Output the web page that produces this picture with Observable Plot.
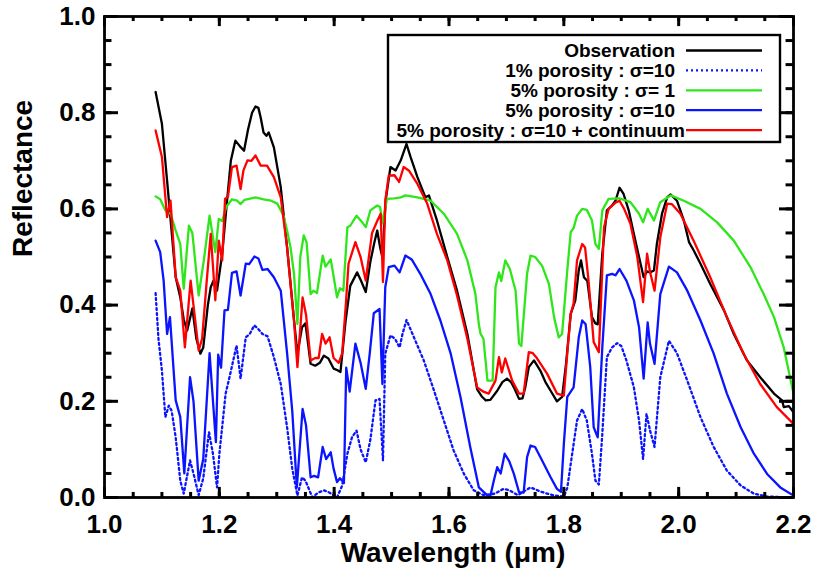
<!DOCTYPE html>
<html><head><meta charset="utf-8">
<script src="https://cdn.jsdelivr.net/npm/d3@7"></script>
<script src="https://cdn.jsdelivr.net/npm/@observablehq/plot@0.6"></script>
<style>body{margin:0;background:#fff;}</style>
</head><body><div id="chart"></div>
<script>
// ---- data: [wavelength (µm), reflectance] ----
const observation = [[1.089,.843],[1.100,.777],[1.109,.659],[1.124,.458],[1.132,.416],[1.138,.370],[1.144,.347],[1.153,.393],[1.160,.330],[1.167,.299],[1.172,.312],[1.180,.400],[1.185,.437],[1.190,.451],[1.196,.430],[1.205,.507],[1.214,.624],[1.220,.700],[1.228,.742],[1.236,.730],[1.243,.721],[1.250,.765],[1.257,.800],[1.263,.813],[1.268,.810],[1.272,.790],[1.277,.759],[1.282,.752],[1.286,.759],[1.295,.728],[1.307,.645],[1.318,.520],[1.330,.370],[1.336,.299],[1.344,.354],[1.350,.362],[1.359,.278],[1.367,.274],[1.375,.280],[1.382,.295],[1.390,.289],[1.399,.268],[1.405,.265],[1.411,.261],[1.420,.368],[1.428,.440],[1.440,.468],[1.447,.450],[1.455,.427],[1.463,.490],[1.470,.530],[1.475,.555],[1.480,.520],[1.484,.500],[1.490,.620],[1.498,.687],[1.507,.680],[1.516,.701],[1.526,.735],[1.533,.708],[1.545,.666],[1.559,.624],[1.565,.628],[1.579,.576],[1.597,.500],[1.614,.430],[1.632,.340],[1.649,.225],[1.657,.210],[1.664,.202],[1.672,.203],[1.684,.222],[1.693,.240],[1.701,.247],[1.708,.240],[1.713,.229],[1.722,.205],[1.728,.206],[1.733,.230],[1.739,.271],[1.748,.285],[1.759,.264],[1.768,.240],[1.777,.222],[1.788,.200],[1.797,.209],[1.804,.280],[1.812,.382],[1.820,.410],[1.826,.472],[1.830,.493],[1.835,.458],[1.841,.450],[1.849,.375],[1.855,.362],[1.859,.360],[1.867,.507],[1.875,.597],[1.884,.607],[1.890,.617],[1.897,.644],[1.904,.631],[1.913,.597],[1.922,.548],[1.931,.500],[1.939,.458],[1.945,.470],[1.950,.468],[1.957,.472],[1.962,.527],[1.971,.590],[1.980,.624],[1.986,.630],[1.997,.617],[2.009,.576],[2.018,.531],[2.026,.514],[2.038,.486],[2.055,.444],[2.079,.389],[2.096,.340],[2.119,.285],[2.142,.250],[2.166,.216],[2.180,.202],[2.183,.188],[2.192,.190],[2.200,.177]];

const porosity1s10 = [[1.089,.425],[1.094,.330],[1.100,.264],[1.106,.167],[1.112,.191],[1.117,.180],[1.124,.125],[1.132,.035],[1.138,.008],[1.149,.077],[1.155,.050],[1.164,.005],[1.172,.040],[1.182,.136],[1.189,.090],[1.196,.021],[1.200,.090],[1.211,.216],[1.219,.257],[1.230,.316],[1.237,.247],[1.246,.333],[1.253,.340],[1.261,.358],[1.268,.350],[1.275,.340],[1.284,.335],[1.295,.292],[1.307,.236],[1.318,.146],[1.327,.060],[1.336,.004],[1.344,.042],[1.350,.035],[1.362,.000],[1.372,.010],[1.382,.015],[1.392,.010],[1.405,.000],[1.414,.025],[1.423,.091],[1.431,.125],[1.439,.139],[1.446,.100],[1.455,.073],[1.463,.120],[1.472,.202],[1.479,.205],[1.485,.077],[1.489,.299],[1.498,.337],[1.506,.330],[1.514,.312],[1.519,.340],[1.526,.369],[1.540,.330],[1.556,.285],[1.574,.222],[1.591,.160],[1.608,.098],[1.626,.049],[1.643,.015],[1.660,.005],[1.680,.008],[1.695,.018],[1.705,.015],[1.720,.005],[1.742,.021],[1.760,.012],[1.780,.005],[1.800,.002],[1.806,.020],[1.812,.070],[1.823,.160],[1.832,.184],[1.840,.160],[1.849,.091],[1.855,.035],[1.861,.027],[1.867,.132],[1.875,.292],[1.884,.312],[1.893,.321],[1.900,.315],[1.909,.285],[1.922,.229],[1.931,.160],[1.938,.080],[1.944,.174],[1.950,.140],[1.958,.105],[1.968,.250],[1.983,.326],[1.997,.300],[2.015,.243],[2.038,.167],[2.061,.105],[2.084,.056],[2.108,.025],[2.131,.008],[2.154,.002],[2.200,.000]];

const porosity5s1 = [[1.089,.626],[1.097,.620],[1.106,.597],[1.115,.590],[1.124,.555],[1.132,.527],[1.138,.434],[1.147,.565],[1.153,.550],[1.164,.420],[1.173,.493],[1.183,.586],[1.193,.510],[1.199,.579],[1.205,.575],[1.212,.604],[1.222,.620],[1.231,.617],[1.237,.610],[1.244,.619],[1.263,.624],[1.277,.620],[1.290,.617],[1.301,.611],[1.307,.597],[1.312,.585],[1.318,.555],[1.324,.520],[1.330,.465],[1.336,.361],[1.341,.500],[1.347,.545],[1.352,.530],[1.359,.423],[1.364,.430],[1.370,.425],[1.380,.503],[1.385,.480],[1.394,.495],[1.399,.460],[1.405,.416],[1.410,.435],[1.416,.430],[1.423,.562],[1.428,.565],[1.439,.586],[1.447,.575],[1.455,.562],[1.463,.597],[1.475,.607],[1.480,.604],[1.484,.570],[1.492,.621],[1.505,.622],[1.516,.624],[1.524,.628],[1.545,.624],[1.568,.617],[1.591,.590],[1.614,.548],[1.632,.493],[1.646,.423],[1.652,.360],[1.655,.340],[1.660,.330],[1.667,.243],[1.676,.243],[1.681,.437],[1.687,.468],[1.691,.450],[1.698,.493],[1.706,.475],[1.716,.430],[1.722,.320],[1.726,.315],[1.736,.465],[1.742,.503],[1.750,.500],[1.762,.482],[1.774,.444],[1.783,.375],[1.791,.333],[1.797,.340],[1.806,.472],[1.812,.552],[1.817,.560],[1.823,.586],[1.832,.600],[1.840,.598],[1.849,.576],[1.855,.527],[1.861,.517],[1.867,.597],[1.878,.621],[1.897,.622],[1.916,.614],[1.931,.590],[1.938,.572],[1.946,.600],[1.957,.576],[1.968,.614],[1.986,.628],[2.009,.617],[2.038,.600],[2.067,.572],[2.096,.534],[2.125,.479],[2.148,.423],[2.166,.375],[2.183,.312],[2.200,.216]];

const porosity5s10 = [[1.089,.534],[1.097,.510],[1.103,.451],[1.109,.340],[1.114,.375],[1.124,.202],[1.132,.167],[1.139,.050],[1.149,.250],[1.155,.200],[1.164,.035],[1.172,.080],[1.183,.300],[1.194,.115],[1.198,.297],[1.203,.270],[1.209,.389],[1.215,.390],[1.222,.467],[1.230,.470],[1.237,.420],[1.246,.486],[1.252,.485],[1.261,.501],[1.268,.497],[1.275,.473],[1.284,.475],[1.295,.458],[1.307,.430],[1.318,.300],[1.327,.180],[1.335,.021],[1.345,.184],[1.351,.150],[1.359,.042],[1.365,.045],[1.372,.042],[1.380,.105],[1.386,.080],[1.394,.094],[1.399,.060],[1.405,.032],[1.410,.040],[1.414,.035],[1.417,.030],[1.421,.270],[1.427,.220],[1.437,.320],[1.446,.280],[1.455,.226],[1.462,.300],[1.469,.383],[1.479,.392],[1.484,.236],[1.489,.437],[1.495,.479],[1.505,.482],[1.514,.468],[1.524,.503],[1.535,.495],[1.550,.465],[1.568,.423],[1.585,.368],[1.603,.299],[1.620,.209],[1.637,.105],[1.652,.021],[1.667,.004],[1.672,.003],[1.678,.035],[1.684,.063],[1.690,.050],[1.697,.091],[1.705,.075],[1.713,.049],[1.722,.011],[1.730,.010],[1.736,.084],[1.742,.108],[1.750,.105],[1.759,.084],[1.777,.042],[1.788,.018],[1.795,.012],[1.800,.111],[1.806,.209],[1.817,.229],[1.826,.333],[1.832,.368],[1.838,.360],[1.846,.271],[1.852,.146],[1.859,.125],[1.867,.312],[1.875,.462],[1.884,.465],[1.890,.462],[1.897,.475],[1.909,.451],[1.922,.410],[1.931,.354],[1.939,.247],[1.946,.364],[1.950,.320],[1.958,.278],[1.968,.423],[1.983,.480],[1.997,.468],[2.015,.430],[2.038,.368],[2.061,.299],[2.084,.216],[2.108,.146],[2.131,.091],[2.154,.049],[2.177,.021],[2.200,.004]];

const porosity5s10cont = [[1.089,.763],[1.100,.708],[1.109,.583],[1.115,.617],[1.124,.458],[1.132,.430],[1.140,.312],[1.150,.451],[1.156,.389],[1.164,.306],[1.170,.330],[1.178,.450],[1.185,.548],[1.193,.410],[1.199,.534],[1.205,.493],[1.210,.621],[1.215,.625],[1.222,.687],[1.230,.690],[1.237,.641],[1.242,.680],[1.249,.701],[1.256,.700],[1.263,.711],[1.272,.690],[1.283,.690],[1.295,.666],[1.307,.624],[1.318,.520],[1.330,.368],[1.336,.271],[1.345,.416],[1.351,.380],[1.359,.285],[1.367,.290],[1.373,.290],[1.379,.340],[1.385,.320],[1.392,.333],[1.399,.290],[1.408,.280],[1.414,.300],[1.420,.396],[1.425,.486],[1.437,.531],[1.446,.500],[1.455,.451],[1.466,.550],[1.475,.575],[1.481,.590],[1.485,.448],[1.489,.617],[1.495,.669],[1.505,.670],[1.513,.656],[1.521,.687],[1.530,.680],[1.545,.652],[1.562,.611],[1.579,.548],[1.597,.493],[1.614,.420],[1.632,.330],[1.649,.229],[1.660,.220],[1.669,.216],[1.681,.243],[1.687,.292],[1.692,.260],[1.698,.289],[1.710,.243],[1.722,.216],[1.730,.216],[1.739,.302],[1.746,.300],[1.753,.290],[1.771,.257],[1.788,.216],[1.800,.212],[1.806,.300],[1.812,.382],[1.817,.403],[1.823,.493],[1.832,.527],[1.837,.520],[1.843,.451],[1.852,.323],[1.861,.302],[1.870,.562],[1.878,.600],[1.890,.613],[1.897,.617],[1.905,.600],[1.916,.569],[1.928,.500],[1.938,.406],[1.945,.507],[1.950,.470],[1.958,.430],[1.968,.541],[1.980,.611],[1.988,.610],[2.003,.590],[2.026,.534],[2.055,.458],[2.084,.375],[2.113,.299],[2.142,.236],[2.171,.188],[2.200,.153]];

const seriesNames = ["Observation", "1% porosity : σ=10", "5% porosity : σ= 1", "5% porosity : σ=10", "5% porosity : σ=10 + continuum"];
const seriesColors = ["#000000", "#0a14ff", "#2ee61a", "#0a14ff", "#ff0000"];
const seriesDash = [null, "2 3", null, null, null];
const seriesData = [observation, porosity1s10, porosity5s1, porosity5s10, porosity5s10cont];

const xMajorTicks = [1.0, 1.2, 1.4, 1.6, 1.8, 2.0, 2.2];
const yMajorTicks = [0.0, 0.2, 0.4, 0.6, 0.8, 1.0];
const xMinorTicks = d3.range(0, 25).map(i => 1.0 + i * 0.05);
const yMinorTicks = d3.range(0, 21).map(i => i * 0.05);

const FONT = "'Liberation Sans', Arial, Helvetica, sans-serif";

const lineMarks = seriesData.map((s, k) => Plot.line(s, {
  x: d => d[0], y: d => d[1], stroke: seriesColors[k], strokeWidth: 2.3,
  strokeDasharray: seriesDash[k] || undefined, clip: true
}));

// inward tick marks (lengths along the other axis, in data units)
const tk = {stroke: "#000", strokeWidth: 3};
const xTickMajor = 0.021, xTickMinor = 0.0105;
const yTickMajor = 0.0244, yTickMinor = 0.013;

const plot = Plot.plot({
  width: 817, height: 571,
  marginLeft: 104, marginRight: 24, marginTop: 16, marginBottom: 74,
  style: {fontFamily: FONT, fontWeight: "bold", background: "#fff"},
  x: {domain: [1.0, 2.2]},
  y: {domain: [0, 1]},
  marks: [
    ...lineMarks,
    Plot.ruleX(xMinorTicks, {x: d => d, y1: 0, y2: xTickMinor, ...tk}),
    Plot.ruleX(xMajorTicks, {x: d => d, y1: 0, y2: xTickMajor, ...tk}),
    Plot.ruleX(xMinorTicks, {x: d => d, y1: 1 - xTickMinor, y2: 1, ...tk}),
    Plot.ruleX(xMajorTicks, {x: d => d, y1: 1 - xTickMajor, y2: 1, ...tk}),
    Plot.ruleY(yMinorTicks, {y: d => d, x1: 1.0, x2: 1.0 + yTickMinor, ...tk}),
    Plot.ruleY(yMajorTicks, {y: d => d, x1: 1.0, x2: 1.0 + yTickMajor, ...tk}),
    Plot.ruleY(yMinorTicks, {y: d => d, x1: 2.2 - yTickMinor, x2: 2.2, ...tk}),
    Plot.ruleY(yMajorTicks, {y: d => d, x1: 2.2 - yTickMajor, x2: 2.2, ...tk}),
    Plot.axisX({ticks: xMajorTicks, tickSize: 0, tickPadding: 17, tickFormat: d3.format(".1f"), fontSize: 26, label: null}),
    Plot.axisY({ticks: yMajorTicks, tickSize: 0, tickPadding: 9, tickFormat: d3.format(".1f"), fontSize: 26, label: null}),
    Plot.text(["Wavelength (μm)"], {frameAnchor: "bottom", dy: 64, dx: 4, fontSize: 28, fill: "#000"}),
    Plot.text(["Reflectance"], {frameAnchor: "left", dx: -81, rotate: -90, fontSize: 28, fill: "#000"}),
    Plot.frame({stroke: "#000", strokeWidth: 2.8})
  ]
});
document.getElementById("chart").appendChild(plot);

// legend box inside the plot area (top right)
const svg = d3.select(plot);
const lg = svg.append("g").attr("font-family", FONT).attr("font-weight", "bold").attr("font-size", 19);
lg.append("rect").attr("x", 388).attr("y", 35).attr("width", 392).attr("height", 107)
  .attr("fill", "#fff").attr("stroke", "#000").attr("stroke-width", 2.4);
seriesNames.forEach((name, k) => {
  const cy = 50.5 + k * 19.9;
  const textEnd = k === 4 ? 685 : 675;
  lg.append("text").attr("x", textEnd).attr("y", cy + 6.5).attr("text-anchor", "end").attr("fill", "#000").text(name);
  lg.append("line").attr("x1", 686).attr("x2", 762).attr("y1", cy).attr("y2", cy)
    .attr("stroke", seriesColors[k]).attr("stroke-width", 2.3)
    .attr("stroke-dasharray", seriesDash[k]);
});
</script>
</body></html>
